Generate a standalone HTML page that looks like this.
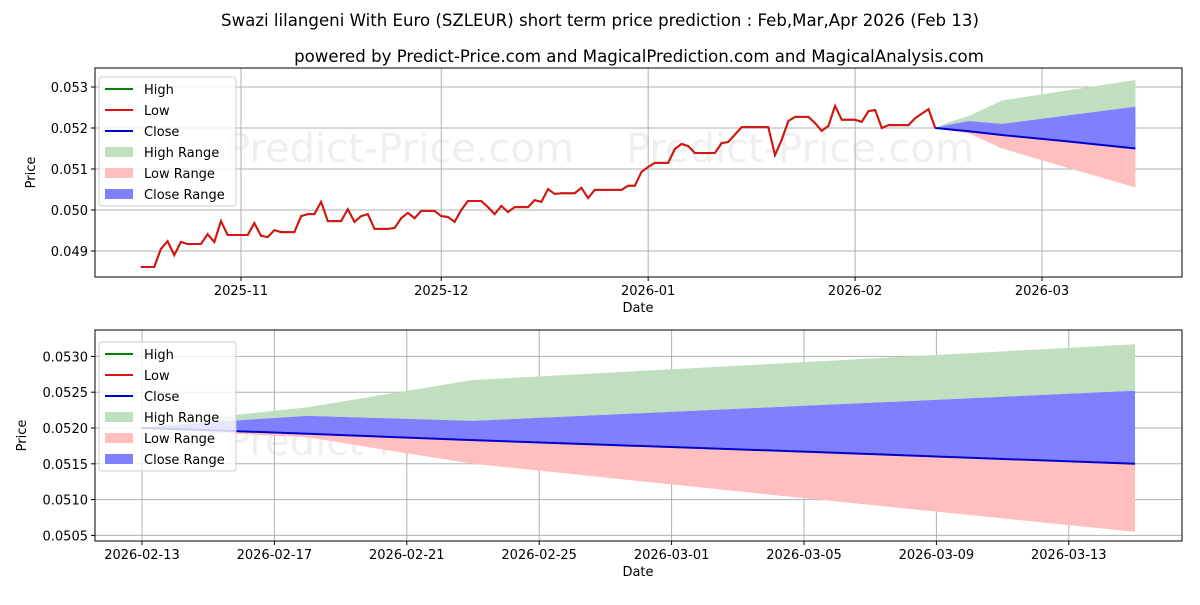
<!DOCTYPE html>
<html><head><meta charset="utf-8"><style>
body{margin:0;background:#fff;}
svg text{font-family:"DejaVu Sans","Liberation Sans",sans-serif;}
</style></head><body>
<svg id="c" width="1200" height="600" xmlns="http://www.w3.org/2000/svg">
<text x="600" y="26" text-anchor="middle" font-size="16.6">Swazi lilangeni With Euro (SZLEUR) short term price prediction : Feb,Mar,Apr 2026 (Feb 13)</text>
<text x="639" y="62" text-anchor="middle" font-size="16.6">powered by Predict-Price.com and MagicalPrediction.com and MagicalAnalysis.com</text>
</svg>
<script>
// history: day offset from 2025-11-01, values
const histDays=[-15,-13,-12,-11,-10,-9,-8,-6,-5,-4,-3,-2,1,2,3,4,5,6,8,9,10,11,12,13,15,16,17,18,19,20,22,23,24,25,26,27,29,30,31,32,33,34,36,37,38,39,40,41,43,44,45,46,47,48,50,51,52,53,57,58,59,60,61,62,64,65,66,67,68,71,72,73,75,79,80,81,82,83,85,86,87,88,89,90,92,93,94,95,96,97,100,101,103,104];
const histLow=[0.04861,0.04861,0.04905,0.04924,0.04890,0.04922,0.04917,0.04917,0.04941,0.04922,0.04973,0.04939,0.04939,0.04968,0.04937,0.04934,0.04951,0.04946,0.04946,0.04985,0.04990,0.04990,0.05020,0.04973,0.04973,0.05002,0.04971,0.04985,0.04990,0.04954,0.04954,0.04956,0.04980,0.04993,0.04980,0.04998,0.04998,0.04985,0.04983,0.04971,0.05000,0.05022,0.05022,0.05007,0.04990,0.05010,0.04995,0.05007,0.05007,0.05024,0.05020,0.05051,0.05039,0.05041,0.05041,0.05054,0.05029,0.05049,0.05049,0.05059,0.05059,0.05093,0.05105,0.05115,0.05115,0.05149,0.05161,0.05156,0.05139,0.05139,0.05163,0.05166,0.05202,0.05202,0.05134,0.05171,0.05217,0.05227,0.05227,0.05212,0.05193,0.05205,0.05254,0.05220,0.05220,0.05215,0.05241,0.05244,0.05200,0.05207,0.05207,0.05224,0.05246,0.05200];
const histHigh=histLow.map((v,i)=>histDays[i]===79?0.05202:v);
// forecast: days from 2025-11-01
const fcDays=[104,106,109,114,124,134];
const fcHigh=[0.05200,0.05214,0.05229,0.05267,0.05292,0.05317];
const fcCloseUp=[0.05200,0.05208,0.05217,0.05210,0.05231,0.05252];
const fcClose=[0.05200,0.05197,0.05192,0.05183,0.05167,0.05150];
const fcLow=[0.05200,0.05194,0.05187,0.05150,0.05102,0.05055];
const topTicksY=[0.049,0.050,0.051,0.052,0.053];
const topTicksX=[[0,'2025-11'],[30,'2025-12'],[61,'2026-01'],[92,'2026-02'],[120,'2026-03']];
const botTicksY=[0.0505,0.0510,0.0515,0.0520,0.0525,0.0530];
const botTicksX=[[104,'2026-02-13'],[108,'2026-02-17'],[112,'2026-02-21'],[116,'2026-02-25'],[120,'2026-03-01'],[124,'2026-03-05'],[128,'2026-03-09'],[132,'2026-03-13']];

const svg=document.getElementById('c');const NS='http://www.w3.org/2000/svg';
function mk(t,a,p){const e=document.createElementNS(NS,t);for(const k in a)e.setAttribute(k,a[k]);(p||svg).appendChild(e);return e;}
function panel(P){
  const g=mk('g',{});
  
  
  const X=d=>P.x0+(d-P.d0)*P.sx, Y=v=>P.y0-(v-P.v0)*P.sy;
  const wm1=mk('text',{x:400,y:P.wmY,'font-size':40,fill:'#efefef','text-anchor':'middle'},g);wm1.textContent='Predict-Price.com';
  
  
  const wm2=mk('text',{x:800,y:P.wmY,'font-size':40,fill:'#efefef','text-anchor':'middle'},g);wm2.textContent='Predict-Price.com';
  
  
  P.ty.forEach(v=>{const y=Y(v);mk('line',{x1:95,x2:1182,y1:y,y2:y,stroke:'#b0b0b0','stroke-width':1},g);
    mk('line',{x1:91,x2:95,y1:y,y2:y,stroke:'#000'},g);
    const t=mk('text',{x:88,y:y+5,'font-size':13,'text-anchor':'end'},g);t.textContent=v.toFixed(P.dec);
    
    });
  P.tx.forEach(([d,l])=>{const x=X(d);mk('line',{x1:x,x2:x,y1:P.top,y2:P.bot,stroke:'#b0b0b0'},g);
    mk('line',{x1:x,x2:x,y1:P.bot,y2:P.bot+4,stroke:'#000'},g);
    const t=mk('text',{x:x,y:P.bot+18,'font-size':13,'text-anchor':'middle'},g);t.textContent=l;
    
    });
  const area=(up,lo,col,name)=>{let pts=fcDays.map((d,i)=>X(d)+','+Y(up[i]));
    for(let i=fcDays.length-1;i>=0;i--)pts.push(X(fcDays[i])+','+Y(lo[i]));
    const p=mk('polygon',{points:pts.join(' '),fill:col},g);
    
    };
  area(fcHigh,fcCloseUp,'#bfdfbf','high-range-area');
  area(fcCloseUp,fcClose,'#8080ff','close-range-area');
  area(fcClose,fcLow,'#ffbfbf','low-range-area');
  const line=(ds,vs,col,name)=>{const p=mk('polyline',{points:ds.map((d,i)=>X(d)+','+Y(vs[i])).join(' '),fill:'none',stroke:col,'stroke-width':2},g);
    
    };
  if(P.hist){line(histDays,histHigh,'#008000','high-line');line(histDays,histLow,'#dd1111','low-line');}
  line(fcDays,fcClose,'#0000cc','close-line');
  mk('rect',{x:95,y:P.top,width:1087,height:P.bot-P.top,fill:'none',stroke:'#000'},g);
  const xl=mk('text',{x:638,y:P.bot+35,'font-size':13,'text-anchor':'middle'},g);xl.textContent='Date';
  
  
  const yl=mk('text',{x:0,y:0,'font-size':13,'text-anchor':'middle',transform:`translate(${P.ylx},${(P.top+P.bot)/2}) rotate(-90)`},g);yl.textContent='Price';
  
  
  const lg=mk('g',{},g);
  
  
  mk('rect',{x:99,y:P.lt,width:137,height:129,rx:3,fill:'#fff','fill-opacity':0.8,stroke:'#ccc'},lg);
  const items=[['High','#008000',0],['Low','#dd1111',0],['Close','#0000cc',0],['High Range','#bfdfbf',1],['Low Range','#ffbfbf',1],['Close Range','#8080ff',1]];
  items.forEach(([n,c,f],i)=>{const y=P.lt+12+i*21;
    if(f)mk('rect',{x:105,y:y-5,width:28,height:10,fill:c},lg);else mk('line',{x1:105,x2:133,y1:y,y2:y,stroke:c,'stroke-width':2},lg);
    const t=mk('text',{x:144,y:y+5,'font-size':13},lg);t.textContent=n;
    
    });
}
panel({name:'history-panel',x0:241,d0:0,sx:6.675,y0:128,v0:0.052,sy:41000,top:68,bot:277,ty:topTicksY,tx:topTicksX,dec:3,hist:true,ylx:35,lt:77,wmY:162});
panel({name:'forecast-panel',x0:142,d0:104,sx:33.1,y0:428,v0:0.052,sy:71600,top:330,bot:541,ty:botTicksY,tx:botTicksX,dec:4,hist:false,ylx:26,lt:342,wmY:455});
</script>
</body></html>
